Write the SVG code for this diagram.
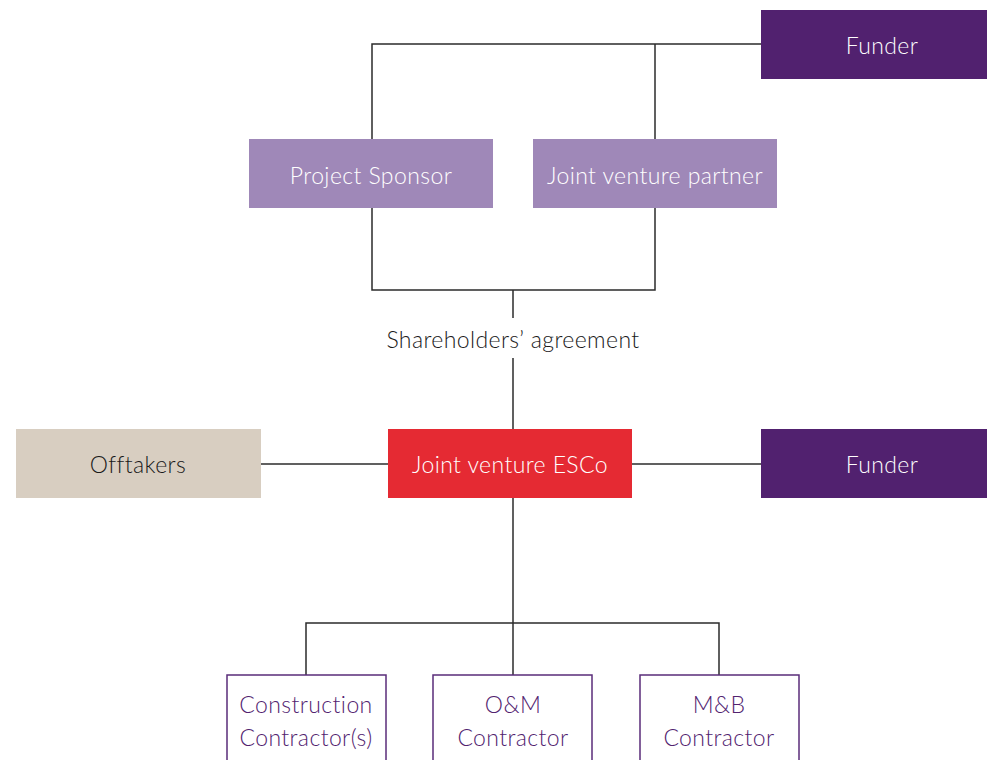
<svg xmlns="http://www.w3.org/2000/svg" width="987" height="760" viewBox="0 0 987 760">
<style>
text{font-family:"Lato","Open Sans","Liberation Sans",sans-serif;font-size:23px;text-anchor:middle;font-weight:300;letter-spacing:0.4px}
.w{fill:#ffffff}
.k{fill:#1a1a1a}
.p{fill:#52236f}
.ln{stroke:#2b2b2b;stroke-width:1.5;fill:none}
.dp{fill:#51216f}
.lp{fill:#9f88b8}
.bg{fill:#d8cec1}
.rd{fill:#e52a33}
.ob{fill:#ffffff;stroke:#5a2d7a;stroke-width:1.5}
</style>
<rect width="987" height="760" fill="#ffffff"/>
<g id="connectors">
<polyline class="ln" points="761,44 372,44 372,139"/>
<line class="ln" x1="655" y1="44" x2="655" y2="139"/>
<polyline class="ln" points="372,208 372,290 655,290 655,208"/>
<line class="ln" x1="513" y1="290" x2="513" y2="318"/>
<line class="ln" x1="513" y1="358" x2="513" y2="429"/>
<line class="ln" x1="261" y1="464" x2="388" y2="464"/>
<line class="ln" x1="632" y1="464" x2="761" y2="464"/>
<line class="ln" x1="513" y1="498" x2="513" y2="675"/>
<polyline class="ln" points="306,675 306,623 719,623 719,675"/>
<text id="shareholders" class="k" x="513" y="348">Shareholders’ agreement</text>
</g>
<g id="funder-top"><rect class="dp" x="761" y="10" width="226" height="69"/><text class="w" x="882" y="54">Funder</text></g>
<g id="project-sponsor"><rect class="lp" x="249" y="139" width="244" height="69"/><text class="w" x="371" y="184">Project Sponsor</text></g>
<g id="jv-partner"><rect class="lp" x="533" y="139" width="244" height="69"/><text class="w" x="655" y="184">Joint venture partner</text></g>
<g id="offtakers"><rect class="bg" x="16" y="429" width="245" height="69"/><text class="k" x="138" y="473">Offtakers</text></g>
<g id="jv-esco"><rect class="rd" x="388" y="429" width="244" height="69"/><text class="w" x="510" y="473">Joint venture ESCo</text></g>
<g id="funder-mid"><rect class="dp" x="761" y="429" width="226" height="69"/><text class="w" x="882" y="473">Funder</text></g>
<g id="construction"><rect class="ob" x="227" y="675" width="159" height="95"/><text class="p" x="306" y="713">Construction</text><text class="p" x="306" y="746">Contractor(s)</text></g>
<g id="om"><rect class="ob" x="433" y="675" width="159" height="95"/><text class="p" x="513" y="713">O&amp;M</text><text class="p" x="513" y="746">Contractor</text></g>
<g id="mb"><rect class="ob" x="640" y="675" width="159" height="95"/><text class="p" x="719" y="713">M&amp;B</text><text class="p" x="719" y="746">Contractor</text></g>
</svg>
